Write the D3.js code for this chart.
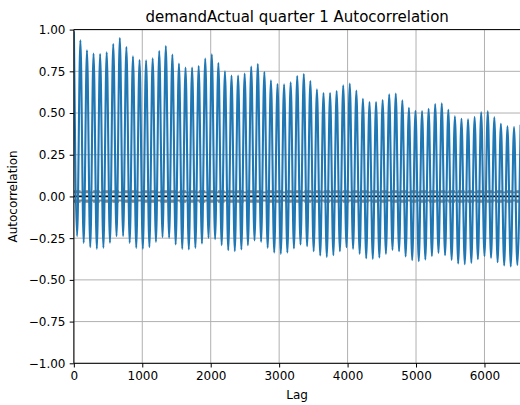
<!DOCTYPE html>
<html lang="en">
  <head>
    <meta charset="utf-8">
    <title>demandActual quarter 1 Autocorrelation</title>
    <script src="https://cdnjs.cloudflare.com/ajax/libs/d3/7.8.5/d3.min.js"></script>
    <style type="text/css">
      body { margin: 0; background: #fff; }
      text { font-family: "DejaVu Sans", sans-serif; }
    </style>
  </head>
  <body>
    <script type="text/javascript">
    // size of the picture
    var w = 520;
    var h = 405;

    // one daily cycle = 96 quarter hours
    var period = 96;
    var nLags = 6525;

    // autocorrelation at lag 1
    var firstValue = 0.99;
    // peaks at lag 96*k, k = 1..68
    var peaks = [0.936, 0.876, 0.856, 0.854, 0.864, 0.914, 0.950, 0.896, 0.840, 0.818,
                 0.816, 0.828, 0.872, 0.902, 0.850, 0.796, 0.772, 0.772, 0.782, 0.826,
                 0.852, 0.800, 0.750, 0.724, 0.724, 0.736, 0.778, 0.794, 0.746, 0.696,
                 0.674, 0.672, 0.684, 0.722, 0.734, 0.692, 0.642, 0.620, 0.620, 0.632,
                 0.666, 0.676, 0.634, 0.586, 0.566, 0.566, 0.578, 0.612, 0.616, 0.576,
                 0.532, 0.514, 0.512, 0.526, 0.554, 0.558, 0.520, 0.480, 0.466, 0.462,
                 0.476, 0.504, 0.510, 0.474, 0.436, 0.420, 0.416, 0.430];
    // troughs at lag 96*k + 48, k = 0..67
    var troughs = [-0.238, -0.278, -0.304, -0.314, -0.308, -0.278, -0.238, -0.238, -0.278, -0.308,
                   -0.314, -0.304, -0.272, -0.244, -0.248, -0.288, -0.314, -0.318, -0.308, -0.282,
                   -0.248, -0.256, -0.292, -0.322, -0.328, -0.318, -0.292, -0.264, -0.272, -0.308,
                   -0.336, -0.344, -0.336, -0.312, -0.288, -0.298, -0.328, -0.354, -0.362, -0.352,
                   -0.328, -0.304, -0.314, -0.344, -0.370, -0.374, -0.366, -0.344, -0.320, -0.328,
                   -0.360, -0.382, -0.388, -0.378, -0.358, -0.338, -0.352, -0.380, -0.402, -0.406,
                   -0.398, -0.376, -0.358, -0.368, -0.394, -0.414, -0.420, -0.412];

    var xTicks = [0, 1000, 2000, 3000, 4000, 5000, 6000];
    var yTicks = [-1, -0.75, -0.5, -0.25, 0, 0.25, 0.5, 0.75, 1];

    // pandas confidence bands
    var z95 = 1.959963984540054;
    var z99 = 2.5758293035489;

    // build the lag / value pairs
    var series = [[1, firstValue]];
    for (var k = 0; k < troughs.length; k++) {
      series.push([period * k + period / 2, troughs[k]]);
      series.push([period * (k + 1), peaks[k]]);
    }

    var pl = 73.9, pr = 520.4, pt = 29.6, pb = 363.3;

    var x = d3.scaleLinear().domain([1, nLags]).range([pl, pr]);
    var y = d3.scaleLinear().domain([-1, 1]).range([pb, pt]);

    var svg = d3.select("body")
                .append("svg")
                .attr("width", w)
                .attr("height", h);

    svg.append("clipPath").attr("id", "clip")
       .append("rect")
       .attr("x", pl).attr("y", pt)
       .attr("width", pr - pl).attr("height", pb - pt);

    // grid
    svg.append("g").selectAll("line")
       .data(xTicks).enter().append("line")
       .attr("x1", function(d) { return x(d); })
       .attr("x2", function(d) { return x(d); })
       .attr("y1", pt).attr("y2", pb)
       .attr("stroke", "#b0b0b0").attr("stroke-width", 1);
    svg.append("g").selectAll("line")
       .data(yTicks).enter().append("line")
       .attr("x1", pl).attr("x2", pr)
       .attr("y1", function(d) { return y(d); })
       .attr("y2", function(d) { return y(d); })
       .attr("stroke", "#b0b0b0").attr("stroke-width", 1);

    // horizontal reference lines
    var hlines = [
      {v: z99 / Math.sqrt(nLags), c: "grey", dash: "6.7,2.9"},
      {v: z95 / Math.sqrt(nLags), c: "grey", dash: null},
      {v: 0, c: "black", dash: null},
      {v: -z95 / Math.sqrt(nLags), c: "grey", dash: null},
      {v: -z99 / Math.sqrt(nLags), c: "grey", dash: "6.7,2.9"}
    ];
    svg.append("g").selectAll("line")
       .data(hlines).enter().append("line")
       .attr("x1", pl).attr("x2", pr)
       .attr("y1", function(d) { return y(d.v); })
       .attr("y2", function(d) { return y(d.v); })
       .attr("stroke", function(d) { return d.c; })
       .attr("stroke-dasharray", function(d) { return d.dash; })
       .attr("stroke-width", 1.8);

    // autocorrelation line
    var line = d3.line()
                 .x(function(d) { return x(d[0]); })
                 .y(function(d) { return y(d[1]); })
                 .curve(d3.curveMonotoneX);
    svg.append("path")
       .datum(series)
       .attr("clip-path", "url(#clip)")
       .attr("d", line)
       .attr("fill", "none")
       .attr("stroke", "#1f77b4")
       .attr("stroke-width", 2.1)
       .attr("stroke-linejoin", "round");

    // axes
    var fmtY = function(d) { return d3.format(".2f")(d).replace("-", "\u2212"); };
    var xAxis = svg.append("g")
       .attr("transform", "translate(0," + pb + ")")
       .call(d3.axisBottom(x).tickValues(xTicks).tickFormat(d3.format("d"))
             .tickSize(4.2).tickPadding(3.6));
    var yAxis = svg.append("g")
       .attr("transform", "translate(" + pl + ",0)")
       .call(d3.axisLeft(y).tickValues(yTicks).tickFormat(fmtY)
             .tickSize(4.2).tickPadding(4.2));
    [xAxis, yAxis].forEach(function(a) {
      a.select(".domain").remove();
      a.selectAll("line").attr("stroke", "#000").attr("stroke-width", 1);
      a.selectAll("text").attr("font-size", "12px").attr("fill", "#000")
       .attr("font-family", "DejaVu Sans, sans-serif");
    });

    // spines
    svg.append("path")
       .attr("d", "M" + pl + "," + pt + "V" + pb + "H" + pr
                  + "M" + pl + "," + pt + "H" + pr)
       .attr("fill", "none").attr("stroke", "#000").attr("stroke-width", 1);

    // labels
    svg.append("text")
       .attr("x", (pl + pr) / 2).attr("y", 22)
       .attr("text-anchor", "middle").attr("font-size", "15px")
       .text("demandActual quarter 1 Autocorrelation");
    svg.append("text")
       .attr("x", (pl + pr) / 2).attr("y", 399)
       .attr("text-anchor", "middle").attr("font-size", "12px")
       .text("Lag");
    svg.append("text")
       .attr("transform", "translate(17," + ((pt + pb) / 2) + ") rotate(-90)")
       .attr("text-anchor", "middle").attr("font-size", "12px")
       .text("Autocorrelation");
    </script>
  </body>
</html>
